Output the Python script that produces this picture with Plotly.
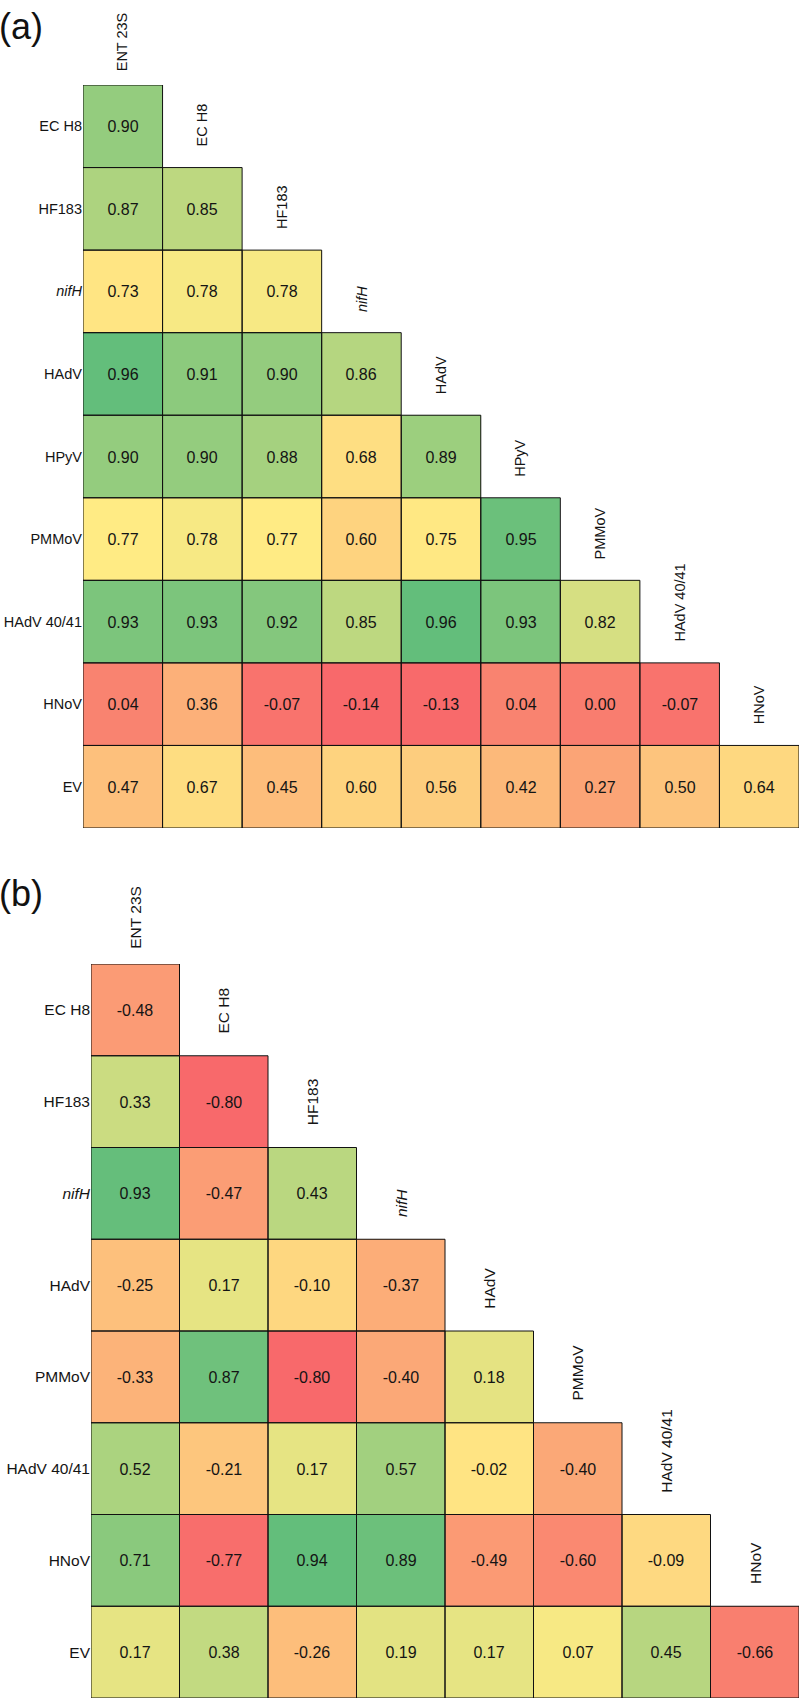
import numpy as np
import plotly.graph_objects as go

W, H = 800, 1701

# ---------------- data ----------------
rows_a = ["EC H8", "HF183", "nifH", "HAdV", "HPyV", "PMMoV", "HAdV 40/41", "HNoV", "EV"]
cols_a = ["ENT 23S", "EC H8", "HF183", "nifH", "HAdV", "HPyV", "PMMoV", "HAdV 40/41", "HNoV"]
vals_a = [
    [0.90],
    [0.87, 0.85],
    [0.73, 0.78, 0.78],
    [0.96, 0.91, 0.90, 0.86],
    [0.90, 0.90, 0.88, 0.68, 0.89],
    [0.77, 0.78, 0.77, 0.60, 0.75, 0.95],
    [0.93, 0.93, 0.92, 0.85, 0.96, 0.93, 0.82],
    [0.04, 0.36, -0.07, -0.14, -0.13, 0.04, 0.00, -0.07],
    [0.47, 0.67, 0.45, 0.60, 0.56, 0.42, 0.27, 0.50, 0.64],
]

rows_b = ["EC H8", "HF183", "nifH", "HAdV", "PMMoV", "HAdV 40/41", "HNoV", "EV"]
cols_b = ["ENT 23S", "EC H8", "HF183", "nifH", "HAdV", "PMMoV", "HAdV 40/41", "HNoV"]
vals_b = [
    [-0.48],
    [0.33, -0.80],
    [0.93, -0.47, 0.43],
    [-0.25, 0.17, -0.10, -0.37],
    [-0.33, 0.87, -0.80, -0.40, 0.18],
    [0.52, -0.21, 0.17, 0.57, -0.02, -0.40],
    [0.71, -0.77, 0.94, 0.89, -0.49, -0.60, -0.09],
    [0.17, 0.38, -0.26, 0.19, 0.17, 0.07, 0.45, -0.66],
]

RED, YEL, GRN = "#F8696B", "#FFEB84", "#63BE7B"
FONT = "Liberation Sans, Arial"
TXT = "#141414"


def label(s):
    return "<i>nifH</i>" if s == "nifH" else s


fig = go.Figure()
shapes = []
annotations = []

panels = [
    dict(rows=rows_a, cols=cols_a, vals=vals_a, xs="x", ys="y", xa="xaxis", ya="yaxis",
         px=(83, 799), py=(85, 828), lab="(a)", laby=4, fs_lab=14.5, fs_val=16, gap0=12, gap=19),
    dict(rows=rows_b, cols=cols_b, vals=vals_b, xs="x2", ys="y2", xa="xaxis2", ya="yaxis2",
         px=(91, 799), py=(964, 1698), lab="(b)", laby=871, fs_lab=15.5, fs_val=16, gap0=13, gap=20),
]

layout_axes = {}
for p in panels:
    n = len(p["rows"])
    z = [[None] * n for _ in range(n)]
    txt = [[""] * n for _ in range(n)]
    flat = []
    for r, rowvals in enumerate(p["vals"]):
        for c, v in enumerate(rowvals):
            z[r][c] = v
            txt[r][c] = f"{v:.2f}"
            flat.append(v)
    flat = np.array(flat)
    zmin, zmax, zmed = flat.min(), flat.max(), np.median(flat)
    mid = (zmed - zmin) / (zmax - zmin)
    fig.add_trace(go.Heatmap(
        z=z, x=list(range(n)), y=list(range(n)), text=txt, texttemplate="%{text}",
        textfont=dict(size=p["fs_val"], color=TXT, family=FONT),
        colorscale=[[0, RED], [mid, YEL], [1, GRN]], zmin=zmin, zmax=zmax,
        showscale=False, hoverinfo="skip", xaxis=p["xs"], yaxis=p["ys"],
    ))
    for r, rowvals in enumerate(p["vals"]):
        for c, _ in enumerate(rowvals):
            shapes.append(dict(type="rect", xref=p["xs"], yref=p["ys"],
                               x0=c - 0.5, x1=c + 0.5, y0=r - 0.5, y1=r + 0.5,
                               line=dict(color="#111111", width=1), layer="above"))
    for c, name in enumerate(p["cols"]):
        annotations.append(dict(
            text=label(name), xref=p["xs"], yref=p["ys"], x=c, y=c - 0.5,
            xanchor="center", yanchor="bottom", textangle=-90, showarrow=False,
            yshift=p["gap0"] if c == 0 else p["gap"],
            font=dict(size=p["fs_lab"], color=TXT, family=FONT)))
    annotations.append(dict(
        text=p["lab"], xref="paper", yref="paper", x=-0.004, y=1 - p["laby"] / H,
        xanchor="left", yanchor="top", showarrow=False,
        font=dict(size=36, color="#111111", family=FONT)))
    layout_axes[p["xa"]] = dict(domain=[p["px"][0] / W, p["px"][1] / W], range=[-0.5, n - 0.5],
                               showgrid=False, zeroline=False, showticklabels=False, ticks="",
                               showline=False, anchor=p["ys"], fixedrange=True)
    layout_axes[p["ya"]] = dict(domain=[1 - p["py"][1] / H, 1 - p["py"][0] / H],
                               range=[n - 0.5, -0.5], showgrid=False, zeroline=False,
                               tickvals=list(range(n)), ticktext=[label(s) for s in p["rows"]],
                               tickfont=dict(size=p["fs_lab"], color=TXT, family=FONT),
                               ticks="", showline=False, automargin=False, anchor=p["xs"],
                               fixedrange=True)

fig.update_layout(
    width=W, height=H, margin=dict(l=0, r=0, t=0, b=0),
    paper_bgcolor="white", plot_bgcolor="white",
    shapes=shapes, annotations=annotations, showlegend=False,
    **layout_axes,
)

fig.write_html("out.html",
               config={"displayModeBar": False},
               post_script="document.body.style.margin='0';document.body.style.padding='0';"
                           "document.body.style.overflow='hidden';")
